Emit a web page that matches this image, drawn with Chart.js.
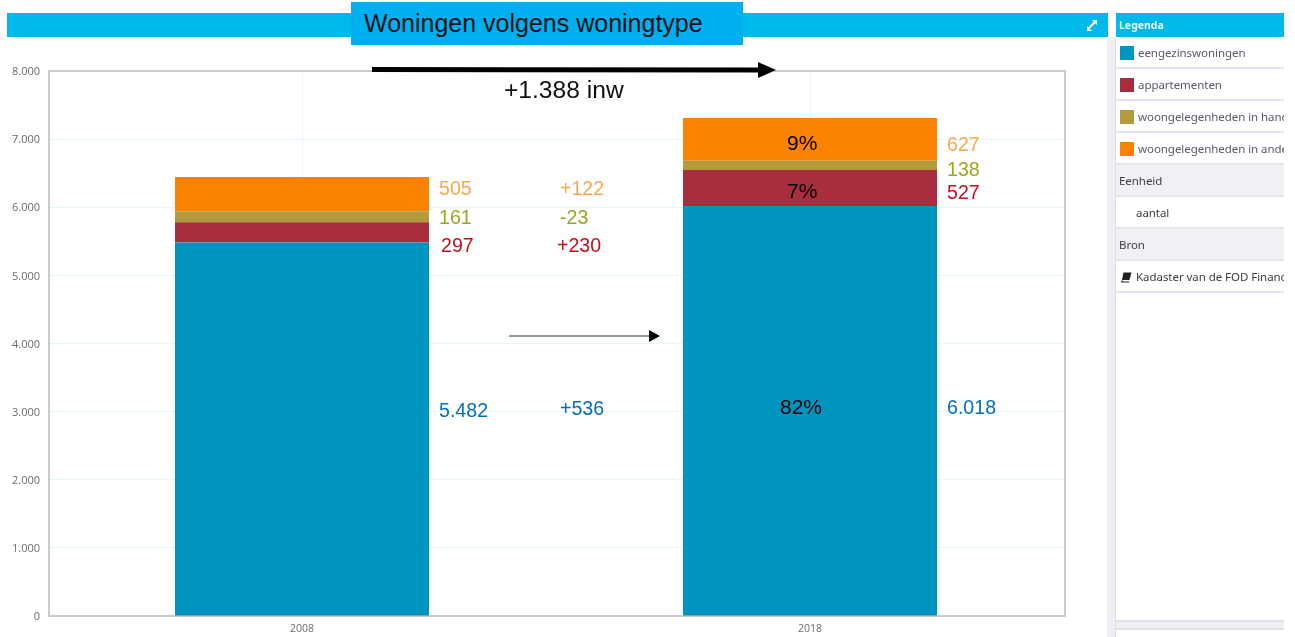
<!DOCTYPE html>
<html><head><meta charset="utf-8">
<script src="https://cdn.jsdelivr.net/npm/chart.js@4"></script>
<style>
html,body{margin:0;padding:0;background:#fff;overflow:hidden}
#wrap{position:relative;width:1295px;height:637px;overflow:hidden}
canvas{position:absolute;left:0;top:0}
.abs{position:absolute;white-space:nowrap}
.n{font:19.6px "Liberation Sans",Arial,sans-serif;line-height:24px}
.bar{background:#00b8ea}
.lg{font:11.5px "Noto Sans",sans-serif;color:#555a66;letter-spacing:-.05px;left:1116px;width:168px;overflow:hidden;box-sizing:border-box;height:32px;border-bottom:2px solid #e4e5ee;line-height:32px}
.sw{position:absolute;left:4px;top:9px;width:14px;height:14px}
.gr{background:#f0f0f5;color:#3c3c44}
</style></head><body>
<div id="wrap">
<canvas id="c" width="1295" height="637"></canvas>
<div id="ov"></div>
</div>
<script>
const categories=["2008","2018"];
const seriesNames=["eengezinswoningen","appartementen","woongelegenheden in handel","woongelegenheden in andere"];
const eengezins=[5482,6018];
const appartementen=[297,527];
const handel=[161,138];
const andere=[505,627];
const seriesColors=["#0095c0","#a82e3f","#b39a3c","#fb8300"];
const yTicks=[0,1000,2000,3000,4000,5000,6000,7000,8000];
const fmt=v=>String(v).replace(/\B(?=(\d{3})+$)/,".");

const frame={id:"frame",beforeDatasetsDraw(ch){const a=ch.chartArea,x=ch.ctx;x.save();x.strokeStyle="#c9cccd";x.lineWidth=2;x.strokeRect(a.left+1,a.top,a.right-a.left,a.bottom-a.top);x.restore();}};
new Chart(document.getElementById("c"),{
 type:"bar",
 data:{labels:categories,datasets:[eengezins,appartementen,handel,andere].map((d,i)=>({label:seriesNames[i],data:d,backgroundColor:seriesColors[i],barPercentage:.5,categoryPercentage:1}))},
 plugins:[frame],
 options:{responsive:false,animation:false,
  layout:{padding:{top:71,right:231,left:0,bottom:0}},
  plugins:{legend:{display:false},title:{display:false},tooltip:{enabled:false}},
  scales:{
   x:{stacked:true,grid:{color:"#e4f7fc",offset:false,drawTicks:false},border:{display:false},
      ticks:{color:"#6b6b6b",font:{family:"Open Sans",size:10.5},padding:7},afterFit(s){s.height=21;}},
   y:{stacked:true,min:0,max:8000,grid:{color:"#e4f7fc",drawTicks:false},border:{display:false},
      afterBuildTicks(s){s.ticks=yTicks.map(v=>({value:v}));},
      ticks:{color:"#6b6b6b",font:{family:"Open Sans",size:11},padding:8,labelOffset:1,callback:v=>fmt(v)},afterFit(s){s.width=48;}}
  }}
});

const ov=document.getElementById("ov");
function box(cls,l,t,w,h,txt,st){const d=document.createElement("div");d.className="abs "+cls;d.style.cssText=`left:${l}px;top:${t}px;`+(w?`width:${w}px;`:"")+(h?`height:${h}px;`:"")+(st||"");if(txt)d.textContent=txt;ov.appendChild(d);return d;}
// header bars
box("bar",7,13,1101,24);
box("bar",1116,13,168,24);
box("",351,2,392,43,"Woningen volgens woningtype",'background:#00aff0;color:#111;font:25px/43px "Liberation Sans",sans-serif;padding-left:13px;box-sizing:border-box;');
box("",1119,13,100,24,"Legenda",'color:#e8fbff;font:bold 10.5px/24px "Noto Sans",sans-serif;');
// expand icon
ov.insertAdjacentHTML("beforeend",`<svg class="abs" style="left:0;top:0" width="1295" height="637">
<path d="M1088 29L1095 22" stroke="#fff" stroke-width="2"/><path d="M1092 20H1097V25ZM1087 26V31H1092Z" fill="#fff"/>
<path d="M372 69.5L762 70" stroke="#000" stroke-width="5"/><path d="M758 62L776 70L758 78Z" fill="#000"/>
<path d="M509 336H650" stroke="#333" stroke-width="1.2"/><path d="M649 330L660 336L649 342Z" fill="#000"/>
</svg>`);
// annotations
const O="#fba94c",G="#9aa81f",R="#c8101c",B="#0070c0",K="#000";
[["505",439,176,O],["+122",560,176,O],["161",439,205,G],["-23",560,205,G],["297",441,233,R],["+230",557,233,R],
 ["5.482",439,398,B],["+536",560,396,B],["6.018",947,395,B],["627",947,132,O],["138",947,157,G],["527",947,180,R],
 ["9%",787,131,K,21],["7%",787,179,K,21],["82%",780,395,K,21],["+1.388 inw",504,78,"#111",24.6]
].forEach(a=>{box("n",a[1],a[2],0,0,a[0],"color:"+a[3]+";"+(a[4]?`font-size:${a[4]}px;`:""));});
// legend panel
box("",1107,37,9,600,"",'background:#eeeef3;border-right:1px solid #dcdde6;box-sizing:border-box');
box("",1116,620,168,10,"",'background:#eeeef3;border-top:2px solid #dfe0ea;border-bottom:2px solid #dfe0ea;box-sizing:border-box');
const rows=[[37,seriesNames[0],0],[69,"appartementen",1],[101,"woongelegenheden in handel",2],[133,"woongelegenheden in andere",3]];
rows.forEach(r=>{const d=box("lg",1116,r[0],0,0,"");d.style.width="168px";d.style.height="32px";d.style.paddingLeft="22px";d.textContent=r[1];
 const s=document.createElement("div");s.className="sw";s.style.background=seriesColors[r[2]];d.appendChild(s);});
[[165,"Eenheid",3,1],[197,"aantal",20,0],[229,"Bron",3,1],[261,"Kadaster van de FOD Financiën",20,0]].forEach(r=>{
 const d=box("lg"+(r[3]?" gr":""),1116,r[0],0,0,r[1]);d.style.width="168px";d.style.height="32px";d.style.paddingLeft=r[2]+"px";d.style.color="#3c3c44";});
ov.insertAdjacentHTML("beforeend",`<svg class="abs" style="left:1120px;top:272px" width="12" height="11"><path d="M3.5 0.5H11.5L9.5 8H2Z" fill="#222"/><path d="M2 8L1 10.5H9L9.5 9.5H3Z" fill="#222"/></svg>`);
</script>
</body></html>
